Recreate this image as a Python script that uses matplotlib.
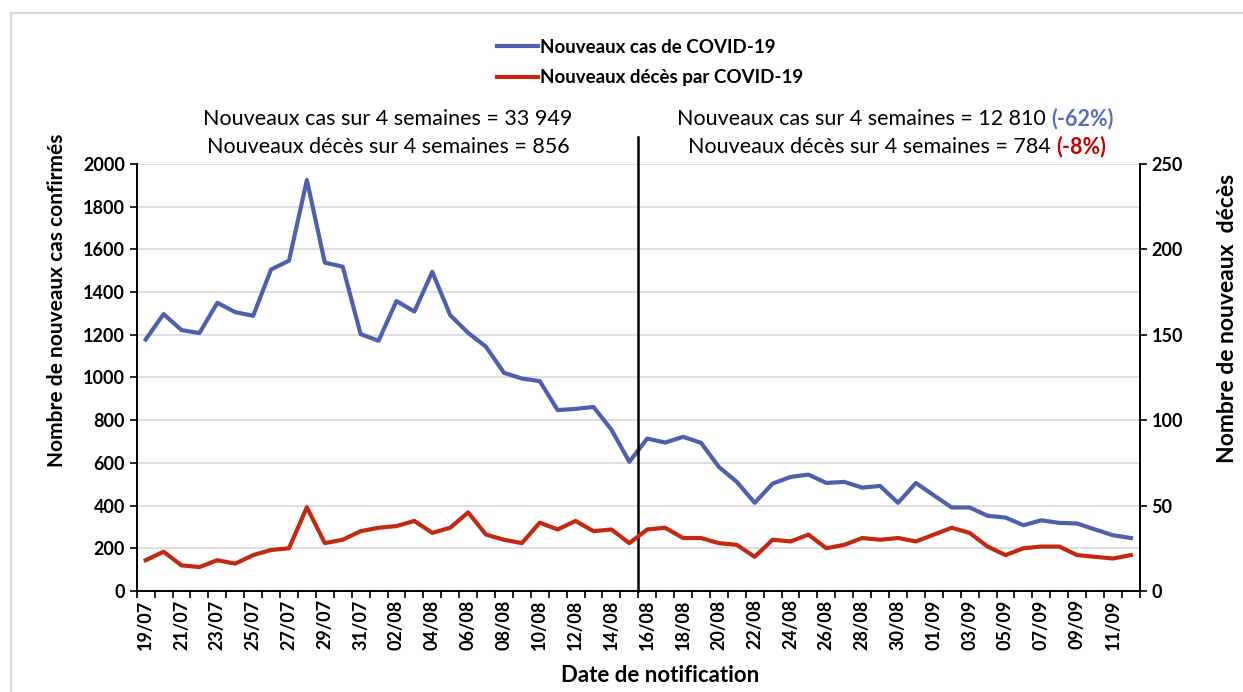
"""COVID-19 new cases vs new deaths by notification date."""

import datetime as dt
import numpy as np
import matplotlib.pyplot as plt
from matplotlib.patches import Rectangle

plt.rcParams['font.family'] = ['Lato', 'DejaVu Sans']

start = dt.date(2020, 7, 19)
dates = [(start + dt.timedelta(days=i)).strftime('%d/%m') for i in range(56)]

cases = [1178, 1297, 1222, 1208, 1350, 1306, 1289, 1506, 1547, 1925,
         1538, 1519, 1203, 1172, 1358, 1309, 1495, 1292, 1209, 1144,
         1022, 995, 983, 847, 853, 862, 756, 605,
         714, 695, 722, 694, 581, 511, 413, 503, 534, 545,
         506, 511, 484, 492, 413, 506, 448, 391, 391, 352,
         344, 308, 331, 319, 316, 288, 261, 248]

deaths = [18, 23, 15, 14, 18, 16, 21, 24, 25, 49,
          28, 30, 35, 37, 38, 41, 34, 37, 46, 33,
          30, 28, 40, 36, 41, 35, 36, 28,
          36, 37, 31, 31, 28, 27, 20, 30, 29, 33,
          25, 27, 31, 30, 31, 29, 33, 37, 34, 26,
          21, 25, 26, 26, 21, 20, 19, 21]

blue = '#4E5FB0'
red = '#C4280F'
W, H = 1243, 692

fig = plt.figure(figsize=(W / 100, H / 100), dpi=100)
ax1 = fig.add_axes([0.110, 0.146, 0.807, 0.617])
ax2 = ax1.twinx()

x = np.arange(len(dates))
ax1.plot(x, cases, color=blue, lw=3, label='Nouveaux cas de COVID-19', zorder=3)
ax2.plot(x, deaths, color=red, lw=3, label='Nouveaux décès par COVID-19', zorder=3)

ax1.set_xlim(-0.5, len(dates) - 0.5)
ax1.set_ylim(0, 2000)
ax2.set_ylim(0, 250)
ax1.set_yticks(np.arange(0, 2001, 200))
ax2.set_yticks(np.arange(0, 251, 50))
ax1.yaxis.grid(True, color='#D9D9D9', lw=1.2)
ax1.set_axisbelow(True)

# x ticks: labels every 2 days, tick marks on day boundaries
ax1.set_xticks(x[::2])
ax1.set_xticklabels(dates[::2], rotation=90, fontweight='bold', fontsize=13)
ax1.set_xticks(np.arange(-0.5, len(dates)), minor=True)
ax1.tick_params(axis='x', which='major', length=0, pad=6)
ax1.tick_params(axis='x', which='minor', length=5, width=1.2, direction='out')
ax1.tick_params(axis='y', length=5, width=1.2, labelsize=13)
ax2.tick_params(axis='y', length=5, width=1.2, labelsize=13)
for lab in ax1.get_yticklabels() + ax2.get_yticklabels():
    lab.set_fontweight('bold')

for ax in (ax1, ax2):
    ax.spines['top'].set_visible(False)
    for s in ('left', 'right', 'bottom'):
        ax.spines[s].set_linewidth(1.2)

# axis titles (placed like the original, not centred on the axes)
fig.text(57 / W, 1 - 300 / H, 'Nombre de nouveaux cas confirmés', rotation=90,
         ha='center', va='center', fontsize=15, fontweight='bold')
fig.text(1228 / W, 1 - 318 / H, 'Nombre de nouveaux  décès', rotation=90,
         ha='center', va='center', fontsize=16.5, fontweight='bold')
fig.text(660 / W, 1 - 676 / H, 'Date de notification',
         ha='center', va='center', fontsize=16, fontweight='bold')

# separator between the two 4-week periods
ax1.plot([27.5, 27.5], [0, 2125], color='black', lw=1.8, clip_on=False, zorder=4)

# legend
h1, l1 = ax1.get_legend_handles_labels()
h2, l2 = ax2.get_legend_handles_labels()
fig.legend(h1 + h2, l1 + l2, loc='upper center', bbox_to_anchor=(0.523, 0.968),
           frameon=False, ncol=1, handlelength=2.2, handletextpad=0.1,
           prop={'weight': 'bold', 'size': 13.5}, labelspacing=0.7)

# period summaries
fs = 15.5
fig.text(388 / W, 1 - 119 / H, 'Nouveaux cas sur 4 semaines = 33 949',
         ha='center', va='center', fontsize=fs)
fig.text(388 / W, 1 - 147 / H, 'Nouveaux décès sur 4 semaines = 856',
         ha='center', va='center', fontsize=fs)
t1 = fig.text(677 / W, 1 - 119 / H, 'Nouveaux cas sur 4 semaines = 12 810 ',
              ha='left', va='center', fontsize=fs)
ax1.annotate('(-62%)', xy=(1, 0), xycoords=t1, ha='left', va='bottom',
             fontsize=fs, fontweight='bold', color='#5B6BBF')
t2 = fig.text(688 / W, 1 - 147 / H, 'Nouveaux décès sur 4 semaines = 784 ',
              ha='left', va='center', fontsize=fs)
ax1.annotate('(-8%)', xy=(1, 0), xycoords=t2, ha='left', va='bottom',
             fontsize=fs, fontweight='bold', color='#C00000')

# outer chart frame
fig.patches.append(Rectangle((11 / W, -0.1), 1.2, 1 - 13 / H + 0.1,
                             transform=fig.transFigure, fill=False,
                             edgecolor='#D9D9D9', lw=1.5))

fig.savefig('out.png', dpi=100)
